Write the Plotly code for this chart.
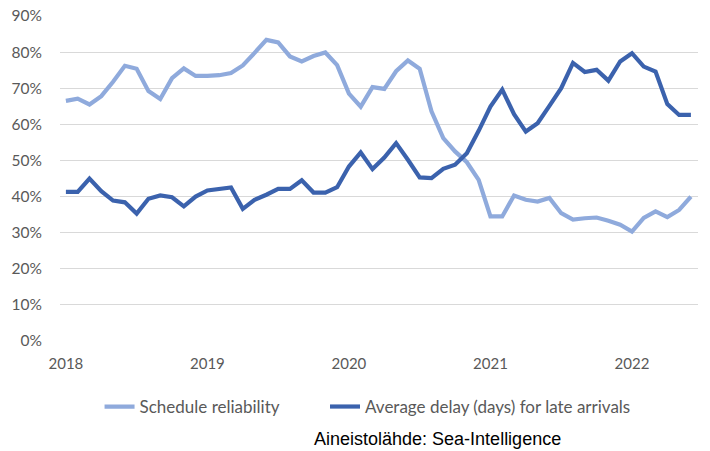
import plotly.graph_objects as go

# Monthly data, Jan 2018 .. Jun 2022
month_index = list(range(54))
year_ticks = [0, 12, 24, 36, 48]
year_labels = ["2018", "2019", "2020", "2021", "2022"]

schedule_reliability = [
    66.5, 67.1, 65.5, 67.8, 71.8, 76.2, 75.4, 69.2, 67.0, 72.8, 75.5, 73.4,
    73.4, 73.6, 74.2, 76.3, 79.8, 83.4, 82.7, 78.8, 77.4, 78.9, 79.9, 76.4,
    68.5, 64.9, 70.3, 69.8, 74.7, 77.7, 75.4, 63.6, 56.2, 52.5, 49.5, 44.6,
    34.5, 34.5, 40.3, 39.1, 38.6, 39.6, 35.4, 33.6, 34.0, 34.2, 33.3, 32.2,
    30.3, 34.1, 35.9, 34.3, 36.3, 40.0,
]

avg_delay_days = [
    4.13, 4.13, 4.50, 4.15, 3.89, 3.84, 3.53, 3.94, 4.03, 3.98, 3.73, 4.00,
    4.17, 4.22, 4.25, 3.66, 3.91, 4.05, 4.21, 4.21, 4.45, 4.11, 4.11, 4.26,
    4.83, 5.22, 4.76, 5.08, 5.48, 5.02, 4.53, 4.51, 4.77, 4.88, 5.20, 5.82,
    6.49, 6.96, 6.28, 5.80, 6.03, 6.51, 7.00, 7.70, 7.45, 7.51, 7.21, 7.74,
    7.97, 7.60, 7.46, 6.56, 6.26, 6.26,
]

light = "#8FAADC"
dark = "#3B62AD"
grey = "#595959"
font_family = "Lato, Calibri, sans-serif"
legend_font = dict(family=font_family, size=17, color=grey)

fig = go.Figure()
fig.add_trace(go.Scatter(
    x=month_index, y=schedule_reliability, mode="lines",
    name="Schedule reliability", legend="legend",
    line=dict(color=light, width=4.2),
))
fig.add_trace(go.Scatter(
    x=month_index, y=avg_delay_days, mode="lines", yaxis="y2",
    name="Average delay (days) for late arrivals", legend="legend2",
    line=dict(color=dark, width=4.2),
))

fig.update_layout(
    width=710, height=451,
    margin=dict(l=60, r=12, t=16, b=110, autoexpand=False),
    paper_bgcolor="white", plot_bgcolor="white",
    showlegend=True,
    legend=dict(
        orientation="h", x=0.062, xanchor="left", y=-0.203, yanchor="middle",
        font=legend_font, itemwidth=30,
    ),
    legend2=dict(
        orientation="h", x=0.4154, xanchor="left", y=-0.203, yanchor="middle",
        font=legend_font, itemwidth=30,
    ),
    xaxis=dict(
        range=[-0.5, 53.6], tickmode="array", tickvals=year_ticks,
        ticktext=year_labels, showgrid=False, zeroline=False,
        showline=False, ticks="",
        tickfont=dict(family=font_family, size=15, color=grey),
        ticklabelstandoff=12, automargin=False,
    ),
    yaxis=dict(
        range=[0, 90], dtick=10, ticksuffix="%", showgrid=True,
        gridcolor="#D9D9D9", gridwidth=1.3, zeroline=False, showline=False,
        ticks="", tickfont=dict(family=font_family, size=15.5, color=grey),
        ticklabelstandoff=17, automargin=False,
    ),
    yaxis2=dict(
        range=[0, 9], overlaying="y", side="right", visible=False,
        showgrid=False, zeroline=False, automargin=False,
    ),
    annotations=[dict(
        text="Aineistolähde: Sea-Intelligence", xref="paper", yref="paper",
        x=0.592, y=-0.301, xanchor="center", yanchor="middle",
        showarrow=False,
        font=dict(family="Liberation Sans, Arial, sans-serif", size=18,
                  color="black"),
    )],
)

fig.write_html(
    "out.html",
    config={"displayModeBar": False},
    post_script="document.body.style.margin='0';",
)
